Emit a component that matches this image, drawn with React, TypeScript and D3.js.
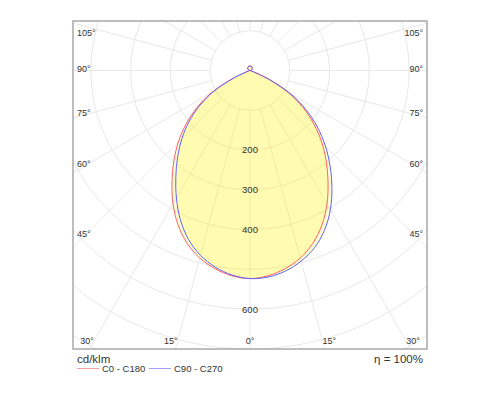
import React, { useRef, useEffect } from 'react';
import * as d3 from 'd3';

// gamma angles (deg from nadir) and intensities in cd/klm
const gammas = [
  0, 5, 10, 15, 20, 25, 30, 35, 40, 45, 50, 55, 60, 65, 70, 75, 80, 85, 90,
  95, 100, 105, 110, 115, 120, 125, 130, 135, 140, 145, 150, 155, 160, 165, 170, 175, 180
];
const upward = [1, 2, 3, 4, 5, 6, 7, 8, 8, 9, 9, 10, 10, 11, 11, 11, 11, 11];
const c0 = [523, 518, 506, 488, 462, 428, 387, 342, 298, 255, 210, 163, 112, 50, 8, 3, 1, 0, 0, ...upward];
const c180 = [523, 518, 506, 488, 462, 428, 387, 342, 298, 255, 210, 163, 112, 50, 8, 3, 1, 0, 0, ...upward];
const c90 = [523, 521, 512, 496, 474, 443, 404, 359, 313, 268, 221, 172, 119, 55, 9, 3, 1, 0, 0, ...upward];
const c270 = [523, 516, 502, 481, 452, 414, 370, 325, 283, 242, 200, 155, 106, 46, 7, 3, 1, 0, 0, ...upward];

const rings = [100, 200, 300, 400, 500, 600, 700, 800, 900, 1000];
const ringLabels = [200, 300, 400, 600];
const spokes = d3.range(0, 360, 15);
const sideLabels = [45, 60, 75, 90, 105];
const bottomLabels = [0, 15, 30];

const series = [
  { name: 'C0 - C180', right: c0, left: c180, color: '#ff6161', legend: '#ffa0a0' },
  { name: 'C90 - C270', right: c90, left: c270, color: '#6161ff', legend: '#a0a0ff' }
];

const W = 500;
const H = 400;
const font = '"Liberation Sans", Arial, sans-serif';

const PolarLdc: React.FC = () => {
  const ref = useRef<SVGSVGElement | null>(null);

  useEffect(() => {
    if (!ref.current) return;
    const svg = d3.select(ref.current);
    svg.selectAll('*').remove();

    const box = { left: 73, top: 21, right: 427, bottom: 349 };
    const r = d3.scaleLinear().domain([0, 700]).range([0, 278.5]);
    const cx = (box.left + box.right) / 2;
    const cy = box.bottom - r(700);
    const rad = (deg: number) => (deg * Math.PI) / 180;

    svg.append('rect').attr('width', W).attr('height', H).attr('fill', '#fff');

    svg
      .append('defs')
      .append('clipPath')
      .attr('id', 'plot-clip')
      .append('rect')
      .attr('x', box.left)
      .attr('y', box.top)
      .attr('width', box.right - box.left)
      .attr('height', box.bottom - box.top);

    const plot = svg.append('g').attr('clip-path', 'url(#plot-clip)');
    const g = plot.append('g').attr('transform', `translate(${cx},${cy})`);

    // grid
    g.selectAll('circle.ring')
      .data(rings)
      .join('circle')
      .attr('class', 'ring')
      .attr('r', d => r(d))
      .attr('fill', 'none')
      .attr('stroke', '#e8e8e8')
      .attr('stroke-width', 1);

    g.selectAll('line.spoke')
      .data(spokes)
      .join('line')
      .attr('class', 'spoke')
      .attr('x1', d => r(100) * Math.sin(rad(d)))
      .attr('y1', d => r(100) * Math.cos(rad(d)))
      .attr('x2', d => r(1200) * Math.sin(rad(d)))
      .attr('y2', d => r(1200) * Math.cos(rad(d)))
      .attr('stroke', '#e8e8e8')
      .attr('stroke-width', 1);

    // curves: left half from 180 down to 0, right half from 0 up to 180
    type P = { a: number; v: number };
    const line = d3
      .lineRadial<P>()
      .angle(d => d.a)
      .radius(d => r(d.v))
      .curve(d3.curveCatmullRom.alpha(0.5));

    const paths = series.map(s => {
      const pts: P[] = [];
      for (let i = gammas.length - 1; i >= 0; i--) pts.push({ a: Math.PI + rad(gammas[i]), v: s.left[i] });
      for (let i = 1; i < gammas.length; i++) pts.push({ a: Math.PI - rad(gammas[i]), v: s.right[i] });
      return pts;
    });

    paths.forEach(pts => {
      g.append('path')
        .datum(pts)
        .attr('d', d => line(d) + 'Z')
        .attr('fill', '#fff500')
        .attr('fill-opacity', 0.17)
        .attr('stroke', 'none');
    });

    paths.forEach((pts, i) => {
      g.append('path')
        .datum(pts)
        .attr('d', d => line(d))
        .attr('fill', 'none')
        .attr('stroke', series[i].color)
        .attr('stroke-width', 1);
    });

    // ring labels
    g.selectAll('text.ringLabel')
      .data(ringLabels)
      .join('text')
      .attr('class', 'ringLabel')
      .attr('x', 0)
      .attr('y', d => r(d))
      .attr('dy', '0.35em')
      .attr('text-anchor', 'middle')
      .attr('font-family', font)
      .attr('font-size', 9.5)
      .attr('fill', '#333')
      .text(d => d);

    // frame
    svg
      .append('rect')
      .attr('x', box.left)
      .attr('y', box.top)
      .attr('width', box.right - box.left)
      .attr('height', box.bottom - box.top)
      .attr('fill', 'none')
      .attr('stroke', '#a8a8a8')
      .attr('stroke-width', 1.5);

    // angle labels
    const inset = 12;
    const half = cx - box.left - inset;
    sideLabels.forEach(a => {
      const y = Math.max(box.top + 12, cy + half / Math.tan(rad(a)) - 2);
      [-1, 1].forEach(side => {
        svg
          .append('text')
          .attr('x', side < 0 ? box.left + 4 : box.right - 4)
          .attr('y', y)
          .attr('dy', '0.35em')
          .attr('text-anchor', side < 0 ? 'start' : 'end')
          .attr('font-family', font)
          .attr('font-size', 9)
          .attr('fill', '#333')
          .text(`${a}°`);
      });
    });

    const by = box.bottom - 8;
    bottomLabels.forEach(a => {
      const dx = (by - cy) * Math.tan(rad(a));
      const sides = a === 0 ? [0] : [-1, 1];
      sides.forEach(side => {
        svg
          .append('text')
          .attr('x', cx + side * dx)
          .attr('y', by)
          .attr('dy', '0.35em')
          .attr('text-anchor', side < 0 ? 'end' : side > 0 ? 'start' : 'middle')
          .attr('font-family', font)
          .attr('font-size', 9)
          .attr('fill', '#333')
          .text(`${a}°`);
      });
    });

    // unit, efficiency, legend
    svg
      .append('text')
      .attr('x', box.left + 4)
      .attr('y', box.bottom + 14)
      .attr('font-family', font)
      .attr('font-size', 11.5)
      .attr('fill', '#333')
      .text('cd/klm');

    svg
      .append('text')
      .attr('x', box.right - 4)
      .attr('y', box.bottom + 14)
      .attr('text-anchor', 'end')
      .attr('font-family', font)
      .attr('font-size', 11.5)
      .attr('fill', '#333')
      .text('η = 100%');

    const legendX = [box.left + 4, box.left + 76];
    series.forEach((s, i) => {
      const lx = legendX[i];
      const ly = box.bottom + 19.5;
      svg
        .append('line')
        .attr('x1', lx)
        .attr('x2', lx + 22)
        .attr('y1', ly)
        .attr('y2', ly)
        .attr('stroke', s.legend)
        .attr('stroke-width', 1);
      svg
        .append('text')
        .attr('x', lx + 25)
        .attr('y', ly)
        .attr('dy', '0.35em')
        .attr('font-family', font)
        .attr('font-size', 9.5)
        .attr('fill', '#333')
        .text(s.name);
    });
  }, []);

  return <svg ref={ref} width={W} height={H} viewBox={`0 0 ${W} ${H}`} style={{ display: 'block' }} />;
};

export default function App() {
  return (
    <div style={{ position: 'absolute', left: 0, top: 0 }}>
      <PolarLdc />
    </div>
  );
}
